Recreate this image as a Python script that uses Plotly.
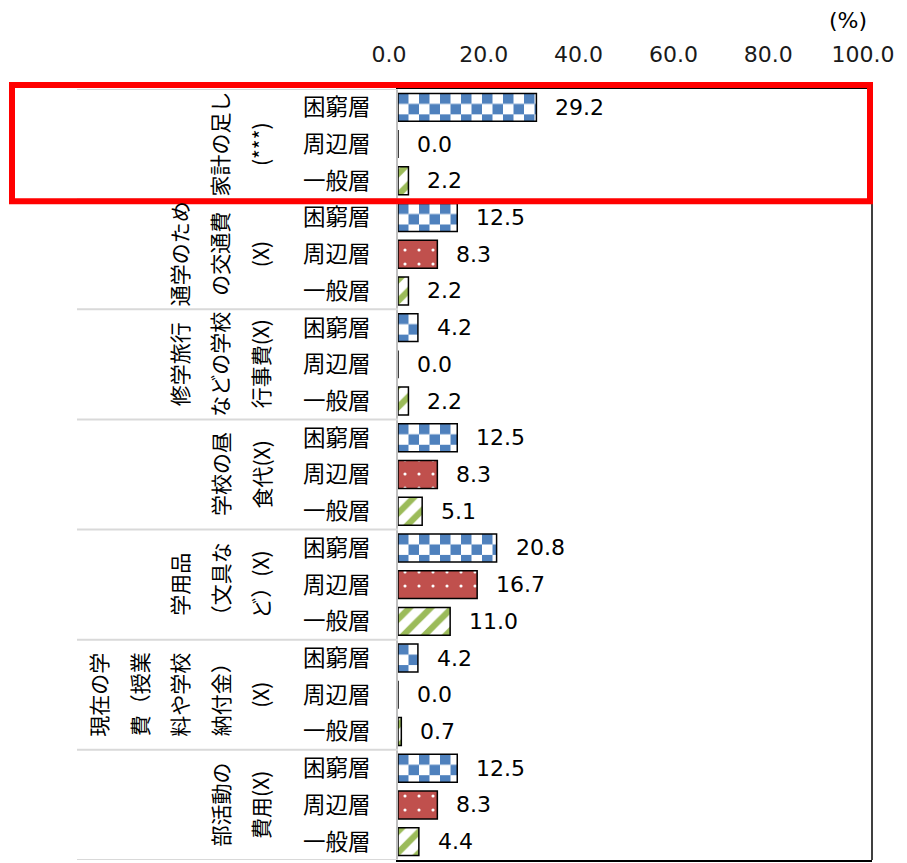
import base64

import plotly.graph_objects as go

# ---- data ----
CATEGORIES = [
    ["家計の足し", "(***)"],
    ["通学のため", "の交通費", "(X)"],
    ["修学旅行", "などの学校", "行事費(X)"],
    ["学校の昼", "食代(X)"],
    ["学用品", "（文具な", "ど）(X)"],
    ["現在の学", "費（授業", "料や学校", "納付金）", "(X)"],
    ["部活動の", "費用(X)"],
]
SERIES = ["困窮層", "周辺層", "一般層"]
KONKYU = [29.2, 12.5, 4.2, 12.5, 20.8, 4.2, 12.5]
SHUHEN = [0.0, 8.3, 0.0, 8.3, 16.7, 0.0, 8.3]
IPPAN = [2.2, 2.2, 2.2, 5.1, 11.0, 0.7, 4.4]
X_TICKS = [0, 20, 40, 60, 80, 100]
UNIT_LABEL = "(%)"
HIGHLIGHT_GROUP = 0

# ---- style ----
W, H = 907, 863
ML, MR, MT, MB = 398, 35, 89, 1
BLUE = "#4F81BD"
RED = "#C0504D"
GREEN = "#9BBB59"
BAR_W = 0.76
FONT = "DejaVu Sans, Noto Sans CJK JP"
JP_FONT = "Noto Sans CJK JP, DejaVu Sans"

plot_w = W - ML - MR
plot_h = H - MT - MB
n_rows = len(SERIES) * len(CATEGORIES)
row_px = plot_h / n_rows


def px_to_paper_x(p):
    return (p - ML) / plot_w


def px_to_paper_y(p):
    return 1 - (p - MT) / plot_h


def rows_for(s):
    return [len(SERIES) * g + s for g in range(len(CATEGORIES))]


def checker_uri(w, h, sq=10.5):
    # checkerboard fill (no such plotly pattern), sized to the bar in px
    svg = (
        f"<svg xmlns='http://www.w3.org/2000/svg' width='{w:.2f}' height='{h:.2f}' "
        f"viewBox='0 0 {w:.2f} {h:.2f}' preserveAspectRatio='none'>"
        f"<defs><pattern id='c' width='{2*sq}' height='{2*sq}' patternUnits='userSpaceOnUse'>"
        f"<rect width='{2*sq}' height='{2*sq}' fill='white'/>"
        f"<rect width='{sq}' height='{sq}' fill='{BLUE}'/>"
        f"<rect x='{sq}' y='{sq}' width='{sq}' height='{sq}' fill='{BLUE}'/>"
        f"</pattern></defs><rect width='{w:.2f}' height='{h:.2f}' fill='url(#c)'/></svg>"
    )
    return "data:image/svg+xml;base64," + base64.b64encode(svg.encode()).decode()


fig = go.Figure()

fig.add_trace(go.Bar(
    x=KONKYU, y=rows_for(0), orientation="h", width=BAR_W, name=SERIES[0],
    marker=dict(color="rgba(0,0,0,0)", line=dict(color="black", width=1.5)),
))
fig.add_trace(go.Bar(
    x=SHUHEN, y=rows_for(1), orientation="h", width=BAR_W, name=SERIES[1],
    marker=dict(
        color=RED,
        line=dict(color="black", width=1.5),
        pattern=dict(shape=".", fgcolor="white", bgcolor=RED, size=14, solidity=0.04, fillmode="replace"),
    ),
))
fig.add_trace(go.Bar(
    x=IPPAN, y=rows_for(2), orientation="h", width=BAR_W, name=SERIES[2],
    marker=dict(
        color=GREEN,
        line=dict(color="black", width=1.5),
        pattern=dict(shape="/", fgcolor=GREEN, bgcolor="white", size=15, solidity=0.42, fillmode="replace"),
    ),
))

images = []
for v, r in zip(KONKYU, rows_for(0)):
    if v > 0:
        images.append(dict(
            source=checker_uri(v * plot_w / 100, BAR_W * row_px),
            xref="x", yref="y", x=0, y=r - BAR_W / 2,
            sizex=v, sizey=BAR_W, xanchor="left", yanchor="top",
            sizing="stretch", layer="below",
        ))

annotations = []
# value labels
for s, vals in enumerate([KONKYU, SHUHEN, IPPAN]):
    for v, r in zip(vals, rows_for(s)):
        annotations.append(dict(
            x=v, y=r, xref="x", yref="y", text=f"{v:.1f}", showarrow=False,
            xanchor="left", yanchor="middle", xshift=17,
            font=dict(family=FONT, size=22, color="black"),
        ))

# category labels, vertical columns right-aligned at x=260px
for g, lines in enumerate(CATEGORIES):
    n = len(lines)
    for k, line in enumerate(lines):
        cx = 260 - (n - 1 - k) * 40.5
        annotations.append(dict(
            x=px_to_paper_x(cx), y=len(SERIES) * g + 1, xref="paper", yref="y",
            text=line, showarrow=False, textangle=-90,
            xanchor="center", yanchor="middle",
            font=dict(family=JP_FONT, size=21, color="black"),
        ))

annotations.append(dict(
    x=px_to_paper_x(848), y=px_to_paper_y(20), xref="paper", yref="paper",
    text=UNIT_LABEL, showarrow=False, xanchor="center", yanchor="middle",
    font=dict(family=FONT, size=22, color="black"),
))

shapes = []
for b in range(len(CATEGORIES) + 1):
    yb = len(SERIES) * b - 0.5
    shapes.append(dict(
        type="line", xref="paper", yref="y",
        x0=px_to_paper_x(77), x1=0, y0=yb, y1=yb,
        line=dict(color="#D9D9D9", width=2),
    ))
# right border of plot area
shapes.append(dict(type="line", xref="paper", yref="paper", x0=1, x1=1, y0=0, y1=1,
                   line=dict(color="black", width=1.5)))
# red highlight box around one group
g0 = len(SERIES) * HIGHLIGHT_GROUP
shapes.append(dict(
    type="rect", xref="paper", yref="paper",
    x0=px_to_paper_x(12), x1=px_to_paper_x(870),
    y0=1 - (g0 + len(SERIES)) / n_rows - 2 / plot_h,
    y1=1 - g0 / n_rows + 4 / plot_h,
    line=dict(color="#FF0000", width=6),
))

fig.update_layout(
    width=W, height=H,
    margin=dict(l=ML, r=MR, t=MT, b=MB, pad=0),
    paper_bgcolor="white", plot_bgcolor="white",
    showlegend=False, barmode="overlay",
    images=images, annotations=annotations, shapes=shapes,
    xaxis=dict(
        side="top", range=[0, 100], tickvals=X_TICKS, tickformat=".1f",
        ticks="", showgrid=False, zeroline=False,
        showline=True, linecolor="black", linewidth=1.5, mirror=True,
        tickfont=dict(family=FONT, size=22, color="#1a1a1a"),
        ticklabelstandoff=16, ticklabelshift=-9,
    ),
    yaxis=dict(
        range=[n_rows - 0.5, -0.5], tickvals=list(range(n_rows)),
        ticktext=SERIES * len(CATEGORIES),
        ticks="", showgrid=False, zeroline=False,
        showline=True, linecolor="#BFBFBF", linewidth=2,
        tickfont=dict(family=JP_FONT, size=22.5, color="black"),
        ticklabelstandoff=21,
    ),
)

fig.write_html(
    "out.html",
    config={"displayModeBar": False},
    post_script="document.body.style.margin='0';",
)
